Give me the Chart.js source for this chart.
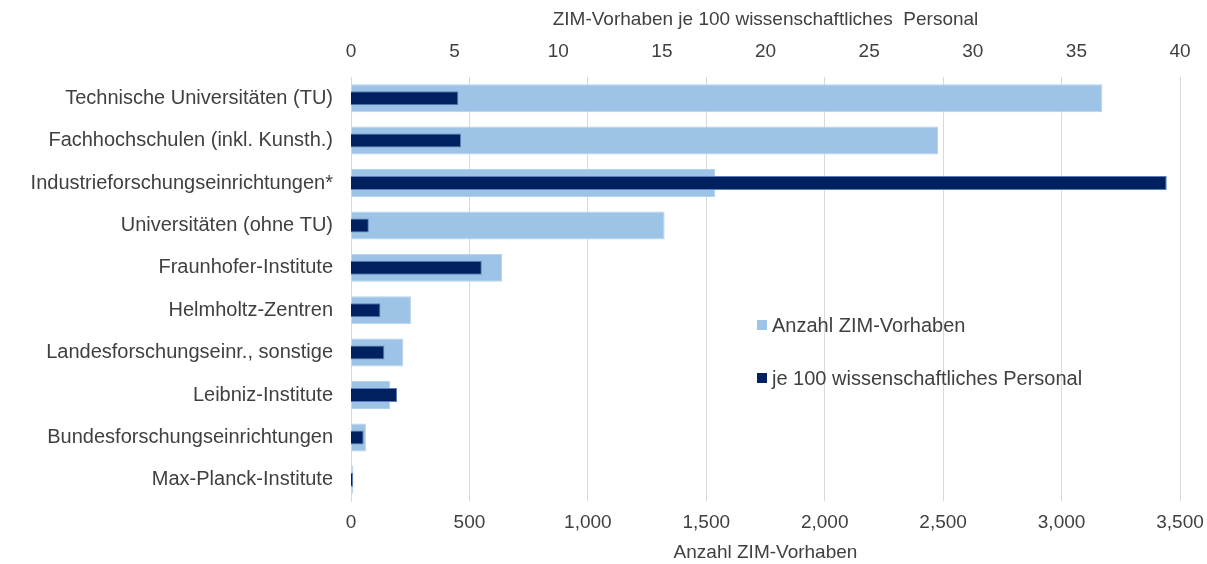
<!DOCTYPE html>
<html>
<head>
<meta charset="utf-8">
<script src="https://cdn.jsdelivr.net/npm/chart.js@4/dist/chart.umd.min.js"></script>
<style>
  html, body { margin: 0; padding: 0; background: #fff; }
  #wrap { width: 1207px; height: 564px; }
</style>
</head>
<body>
<div id="wrap"><canvas id="chart" width="1207" height="564"></canvas></div>
<script>
// categories, top to bottom
const categories = [
    'Technische Universitäten (TU)',
    'Fachhochschulen (inkl. Kunsth.)',
    'Industrieforschungseinrichtungen*',
    'Universitäten (ohne TU)',
    'Fraunhofer-Institute',
    'Helmholtz-Zentren',
    'Landesforschungseinr., sonstige',
    'Leibniz-Institute',
    'Bundesforschungseinrichtungen',
    'Max-Planck-Institute'
];

// bottom axis: Anzahl ZIM-Vorhaben
const anzahlVorhaben = [3172, 2479, 1537, 1324, 638, 253, 221, 166, 63, 10];
// top axis: ZIM-Vorhaben je 100 wissenschaftliches Personal
const jeHundertPersonal = [5.18, 5.31, 39.36, 0.86, 6.31, 1.42, 1.61, 2.22, 0.61, 0.1];

const bottomTicks = [0, 500, 1000, 1500, 2000, 2500, 3000, 3500];
const topTicks = [0, 5, 10, 15, 20, 25, 30, 35, 40];

const labelNames = ['Anzahl ZIM-Vorhaben', 'je 100 wissenschaftliches Personal'];

const lightBlue = '#9DC3E6';
const darkBlue = '#002060';
const textColor = '#404040';
const gridColor = '#D9D9D9';
const fontFamily = "'Liberation Sans', Arial, sans-serif";

// legend sits inside the plot, so draw it by hand
const insideLegend = {
    id: 'insideLegend',
    afterDraw(chart) {
        const ctx = chart.ctx;
        const rows = [
            { y: 325, color: lightBlue, text: labelNames[0] },
            { y: 378, color: darkBlue, text: labelNames[1] }
        ];
        ctx.save();
        ctx.font = '20px ' + fontFamily;
        ctx.textBaseline = 'middle';
        ctx.textAlign = 'left';
        rows.forEach(r => {
            ctx.fillStyle = r.color;
            ctx.fillRect(757, r.y - 5, 10, 10);
            ctx.fillStyle = textColor;
            ctx.fillText(r.text, 772, r.y + 1);
        });
        ctx.restore();
    }
};

// keep the plot's right edge where the reference has it
function fixSidePadding(scale) {
    scale.paddingLeft = 0;
    scale.paddingRight = 27;
}

const ctx = document.getElementById('chart').getContext('2d');
new Chart(ctx, {
    type: 'bar',
    data: {
        labels: categories,
        datasets: [
            {
                label: labelNames[0],
                data: anzahlVorhaben,
                xAxisID: 'x',
                backgroundColor: lightBlue,
                borderColor: '#B4D2EE',
                borderWidth: 1,
                barPercentage: 0.66,
                categoryPercentage: 1,
                order: 2
            },
            {
                label: labelNames[1],
                data: jeHundertPersonal,
                xAxisID: 'x2',
                backgroundColor: darkBlue,
                borderColor: '#5B7FB8',
                borderWidth: 1,
                barPercentage: 0.33,
                categoryPercentage: 1,
                order: 1
            }
        ]
    },
    options: {
        indexAxis: 'y',
        responsive: false,
        animation: false,
        grouped: false,
        layout: { padding: { left: 0, right: 0, top: 0, bottom: 0 } },
        plugins: {
            legend: { display: false },
            tooltip: { enabled: false }
        },
        scales: {
            y: {
                grid: { display: false, drawTicks: false },
                border: { display: true, color: gridColor },
                ticks: {
                    color: textColor,
                    font: { family: fontFamily, size: 20 },
                    padding: 18
                },
                afterFit(scale) { scale.width = 351; }
            },
            x: {
                position: 'bottom',
                min: 0,
                max: 3500,
                afterBuildTicks(scale) { scale.ticks = bottomTicks.map(v => ({ value: v })); },
                grid: { color: gridColor, drawTicks: false },
                border: { display: false },
                ticks: {
                    color: textColor,
                    font: { family: fontFamily, size: 19 },
                    padding: 10,
                    callback: v => v.toLocaleString('en-US')
                },
                title: {
                    display: true,
                    text: 'Anzahl ZIM-Vorhaben',
                    color: textColor,
                    font: { family: fontFamily, size: 19 },
                    padding: { top: 0, bottom: 0 }
                },
                afterFit(scale) { scale.height = 63; fixSidePadding(scale); }
            },
            x2: {
                position: 'top',
                min: 0,
                max: 40,
                afterBuildTicks(scale) { scale.ticks = topTicks.map(v => ({ value: v })); },
                grid: { display: false, drawTicks: false },
                border: { display: false },
                ticks: {
                    color: textColor,
                    font: { family: fontFamily, size: 19 },
                    padding: 14
                },
                title: {
                    display: true,
                    text: 'ZIM-Vorhaben je 100 wissenschaftliches  Personal',
                    color: textColor,
                    font: { family: fontFamily, size: 19 },
                    padding: { top: 8, bottom: 0 }
                },
                afterFit(scale) { scale.height = 77; fixSidePadding(scale); }
            }
        }
    },
    plugins: [insideLegend]
});
</script>
</body>
</html>
